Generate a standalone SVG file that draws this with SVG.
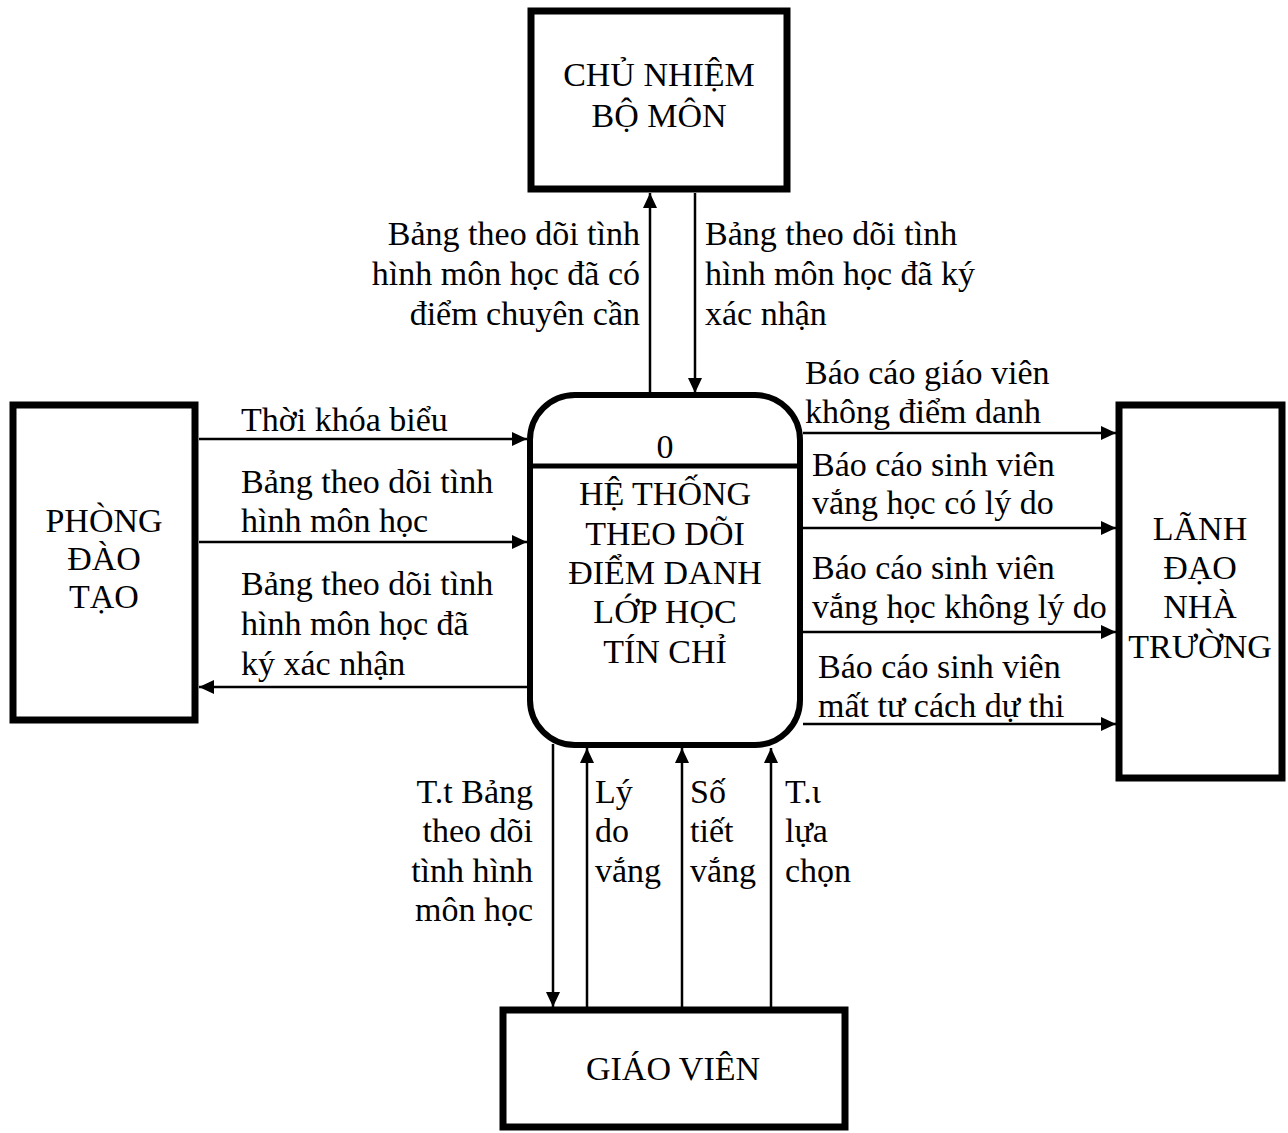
<svg xmlns="http://www.w3.org/2000/svg" width="1288" height="1133" viewBox="0 0 1288 1133">
  <style>
    text { font-family: "Liberation Serif", "Times New Roman", serif; font-size: 34px; fill: #000; }
    .mid { text-anchor: middle; }
    .end { text-anchor: end; }
    .ent { fill: #fff; stroke: #000; stroke-width: 7; }
    .proc { fill: #fff; stroke: #000; stroke-width: 6; }
    .flow { fill: none; stroke: #000; stroke-width: 2.5; }
  </style>
  <defs>
    <marker id="arrow" viewBox="0 0 15 14" refX="15" refY="7" markerWidth="15" markerHeight="14" markerUnits="userSpaceOnUse" orient="auto">
      <path d="M0,0 L15,7 L0,14 Z" fill="#000"/>
    </marker>
  </defs>
  <rect width="1288" height="1133" fill="#fff"/>

  <!-- External entity: department head -->
  <g id="chu-nhiem-bo-mon">
    <rect class="ent" x="531" y="11" width="256" height="178"/>
    <text class="mid" x="659" y="86">CHỦ NHIỆM</text>
    <text class="mid" x="659" y="127">BỘ MÔN</text>
  </g>

  <!-- External entity: training office -->
  <g id="phong-dao-tao">
    <rect class="ent" x="13" y="405" width="182" height="315"/>
    <text class="mid" x="104" y="532">PHÒNG</text>
    <text class="mid" x="104" y="570">ĐÀO</text>
    <text class="mid" x="104" y="608">TẠO</text>
  </g>

  <!-- External entity: school leadership -->
  <g id="lanh-dao-nha-truong">
    <rect class="ent" x="1119" y="405" width="163" height="373"/>
    <text class="mid" x="1200" y="540">LÃNH</text>
    <text class="mid" x="1200" y="579">ĐẠO</text>
    <text class="mid" x="1200" y="618">NHÀ</text>
    <text class="mid" x="1200" y="658">TRƯỜNG</text>
  </g>

  <!-- External entity: lecturer -->
  <g id="giao-vien">
    <rect class="ent" x="503" y="1010" width="342" height="117"/>
    <text class="mid" x="673" y="1080">GIÁO VIÊN</text>
  </g>

  <!-- Process 0 -->
  <g id="process-0">
    <rect class="proc" x="530" y="395" width="270" height="350" rx="45" ry="45"/>
    <line x1="530" y1="466" x2="800" y2="466" stroke="#000" stroke-width="5"/>
    <text class="mid" x="665" y="458">0</text>
    <text class="mid" x="665" y="505">HỆ THỐNG</text>
    <text class="mid" x="665" y="545">THEO DÕI</text>
    <text class="mid" x="665" y="584">ĐIỂM DANH</text>
    <text class="mid" x="665" y="623">LỚP HỌC</text>
    <text class="mid" x="665" y="663">TÍN CHỈ</text>
  </g>

  <!-- Data flows -->
  <g id="connectors">
    <!-- top -->
    <line class="flow" x1="650" y1="392" x2="650" y2="193" marker-end="url(#arrow)"/>
    <line class="flow" x1="695" y1="193" x2="695" y2="393" marker-end="url(#arrow)"/>
    <!-- left -->
    <line class="flow" x1="199" y1="439" x2="527" y2="439" marker-end="url(#arrow)"/>
    <line class="flow" x1="199" y1="542" x2="527" y2="542" marker-end="url(#arrow)"/>
    <line class="flow" x1="527" y1="687" x2="199" y2="687" marker-end="url(#arrow)"/>
    <!-- right -->
    <line class="flow" x1="803" y1="433" x2="1116" y2="433" marker-end="url(#arrow)"/>
    <line class="flow" x1="803" y1="528" x2="1116" y2="528" marker-end="url(#arrow)"/>
    <line class="flow" x1="803" y1="632" x2="1116" y2="632" marker-end="url(#arrow)"/>
    <line class="flow" x1="803" y1="724" x2="1116" y2="724" marker-end="url(#arrow)"/>
    <!-- bottom -->
    <line class="flow" x1="553" y1="744" x2="553" y2="1007" marker-end="url(#arrow)"/>
    <line class="flow" x1="587" y1="1007" x2="587" y2="748" marker-end="url(#arrow)"/>
    <line class="flow" x1="682" y1="1007" x2="682" y2="748" marker-end="url(#arrow)"/>
    <line class="flow" x1="771" y1="1007" x2="771" y2="748" marker-end="url(#arrow)"/>
  </g>

  <!-- Flow labels -->
  <g id="labels">
    <text class="end" x="640" y="245">Bảng theo dõi tình</text>
    <text class="end" x="640" y="285">hình môn học đã có</text>
    <text class="end" x="640" y="325">điểm chuyên cần</text>

    <text x="705" y="245">Bảng theo dõi tình</text>
    <text x="705" y="285">hình môn học đã ký</text>
    <text x="705" y="325">xác nhận</text>

    <text x="241" y="431">Thời khóa biểu</text>
    <text x="241" y="493">Bảng theo dõi tình</text>
    <text x="241" y="532">hình môn học</text>
    <text x="241" y="595">Bảng theo dõi tình</text>
    <text x="241" y="635">hình môn học đã</text>
    <text x="241" y="675">ký xác nhận</text>

    <text x="805" y="384">Báo cáo giáo viên</text>
    <text x="805" y="423">không điểm danh</text>
    <text x="812" y="476">Báo cáo sinh viên</text>
    <text x="812" y="514">vắng học có lý do</text>
    <text x="812" y="579">Báo cáo sinh viên</text>
    <text x="812" y="618">vắng học không lý do</text>
    <text x="818" y="678">Báo cáo sinh viên</text>
    <text x="818" y="717">mất tư cách dự thi</text>

    <text class="end" x="533" y="803">T.t Bảng</text>
    <text class="end" x="533" y="842">theo dõi</text>
    <text class="end" x="533" y="882">tình hình</text>
    <text class="end" x="533" y="921">môn học</text>

    <text x="595" y="803">Lý</text>
    <text x="595" y="842">do</text>
    <text x="595" y="882">vắng</text>

    <text x="690" y="803">Số</text>
    <text x="690" y="842">tiết</text>
    <text x="690" y="882">vắng</text>

    <text x="785" y="803">T.ι</text>
    <text x="785" y="842">lựa</text>
    <text x="785" y="882">chọn</text>
  </g>
</svg>
